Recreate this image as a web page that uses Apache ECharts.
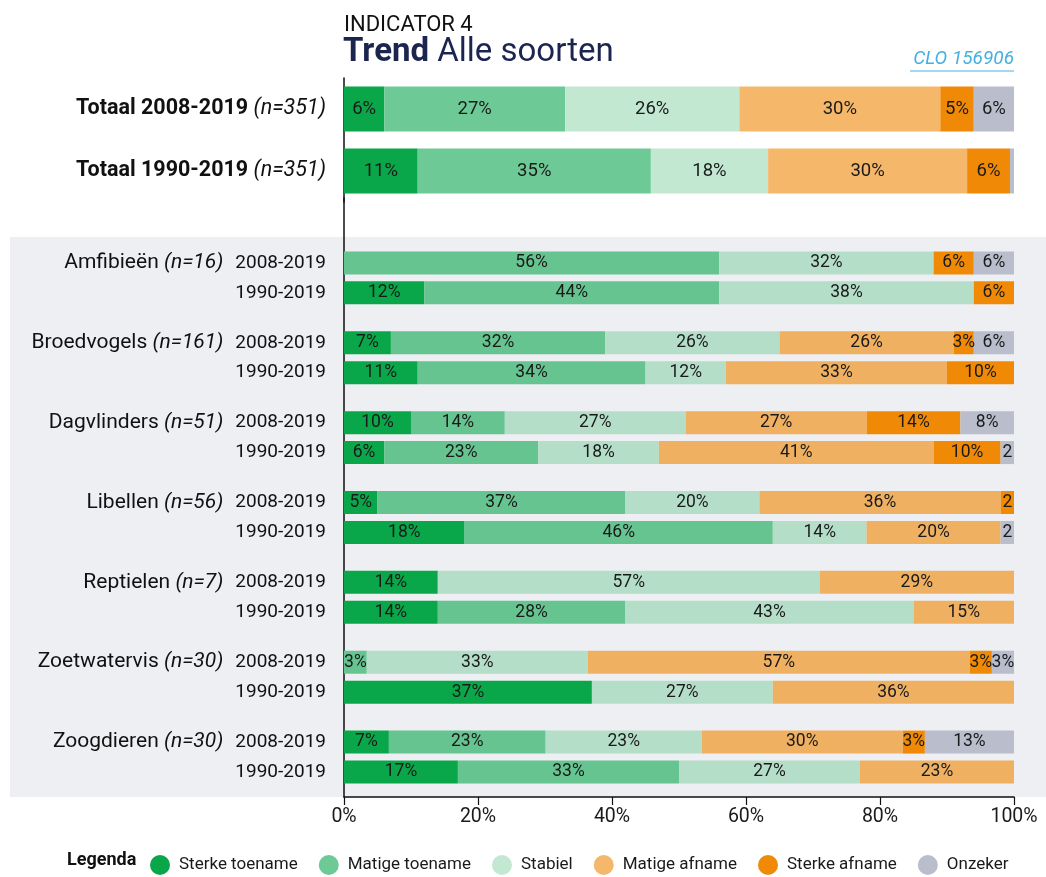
<!DOCTYPE html>
<html>
<head>
<meta charset="utf-8">
<script src="https://cdn.jsdelivr.net/npm/echarts@6/dist/echarts.min.js"></script>
<style>
html,body{margin:0;padding:0;background:#fff;}
#chart{width:1046px;height:877px;}
</style>
</head>
<body>
<div id="chart"></div>
<script>
// ---------- DATA ----------
const seriesNames = ['Sterke toename', 'Matige toename', 'Stabiel', 'Matige afname', 'Sterke afname', 'Onzeker'];

// Totals (top panel)
const totalLabels = ['Totaal 2008-2019', 'Totaal 1990-2019'];
const totalN = [351, 351];
const totalSterkeToename = [6, 11];
const totalMatigeToename = [27, 34.8];
const totalStabiel = [26, 17.5];
const totalMatigeAfname = [30, 29.7];
const totalSterkeAfname = [5, 6.4];
const totalOnzeker = [6, 0.6];

// Species groups (lower panel); two rows per group: 2008-2019, 1990-2019
const groups = ['Amfibieën', 'Broedvogels', 'Dagvlinders', 'Libellen', 'Reptielen', 'Zoetwatervis', 'Zoogdieren'];
const groupN = [16, 161, 51, 56, 7, 30, 30];
const periods = ['2008-2019', '1990-2019'];
const sterkeToename = [0, 12, 7, 11, 10, 6, 5, 18, 14, 14, 0, 37, 6.7, 17];
const matigeToename = [56, 44, 32, 34, 14, 23, 37, 46, 0, 28, 3.4, 0, 23.4, 33];
const stabiel       = [32, 38, 26, 12, 27, 18, 20, 14, 57, 43, 33, 27, 23.3, 27];
const matigeAfname  = [0, 0, 26, 33, 27, 41, 36, 20, 29, 15, 57, 36, 30, 23];
const sterkeAfname  = [6, 6, 3, 10, 14, 10, 2, 0, 0, 0, 3.3, 0, 3.3, 0];
const onzeker       = [6, 0, 6, 0, 8, 2, 0, 2, 0, 0, 3.3, 0, 13.3, 0];

// ---------- STYLE ----------
const FONT = 'Roboto, "Open Sans", sans-serif';
const topColors = ['#0aa64a', '#6dc995', '#c2e8d2', '#f5b76a', '#f08a06', '#b9bdcc'];
const lowColors = ['#0aa64a', '#65c490', '#b5dec9', '#efb062', '#f08a06', '#b9bdcc'];

// ---------- BUILD ----------
const topSeriesData = [totalSterkeToename, totalMatigeToename, totalStabiel, totalMatigeAfname, totalSterkeAfname, totalOnzeker];
const lowSeriesData = [sterkeToename, matigeToename, stabiel, matigeAfname, sterkeAfname, onzeker];

const slotCount = 60, firstSlot = 6, groupSlots = 8, periodSlots = 3;
const lowCats = new Array(slotCount).fill('');
const rowSlot = [];
groups.forEach((g, gi) => {
  periods.forEach((p, pi) => {
    const s = firstSlot + gi * groupSlots + pi * periodSlots;
    rowSlot.push(s);
    lowCats[s] = (pi === 0 ? g + '|' + groupN[gi] : '|') + '|' + p;
  });
});
const topCats = totalLabels.map((t, i) => t + '|' + totalN[i]);

function labelFmt(p) {
  const v = p.value;
  if (v === '-' || v == null || v < 1) return '';
  const r = Math.round(v);
  return v < 2.5 ? String(r) : r + '%';
}

const series = [];
seriesNames.forEach((name, k) => {
  series.push({
    name, type: 'bar', stack: 'top', xAxisIndex: 0, yAxisIndex: 0,
    barWidth: 45,
    itemStyle: { color: topColors[k] },
    label: { show: true, position: 'inside', formatter: labelFmt, color: '#1a1a1a', fontSize: 18.5, fontFamily: FONT },
    data: topSeriesData[k]
  });
});
seriesNames.forEach((name, k) => {
  const d = new Array(slotCount).fill('-');
  lowSeriesData[k].forEach((v, r) => { d[rowSlot[r]] = v; });
  series.push({
    name, type: 'bar', stack: 'low', xAxisIndex: 1, yAxisIndex: 1,
    barWidth: 23,
    itemStyle: { color: lowColors[k] },
    label: { show: true, position: 'inside', formatter: labelFmt, color: '#1a1a1a', fontSize: 17.5, fontFamily: FONT },
    data: d
  });
});

const chart = echarts.init(document.getElementById('chart'), null, { renderer: 'canvas' });
chart.setOption({
  animation: false,
  backgroundColor: '#ffffff',
  textStyle: { fontFamily: FONT },
  grid: [
    { left: 344, right: 32, top: 78, height: 124 },
    { left: 344, right: 32, top: 198, height: 599 }
  ],
  xAxis: [
    { type: 'value', gridIndex: 0, min: 0, max: 100, interval: 20, show: false },
    {
      type: 'value', gridIndex: 1, min: 0, max: 100, interval: 20,
      axisLine: { show: true, lineStyle: { color: '#111', width: 1.5 } },
      axisTick: { show: true, length: 8, lineStyle: { color: '#111', width: 1.2 } },
      splitLine: { show: false },
      axisLabel: { formatter: '{value}%', fontSize: 19.5, color: '#1a1a1a', margin: 10, fontFamily: FONT }
    }
  ],
  yAxis: [
    {
      type: 'category', gridIndex: 0, inverse: true, data: topCats,
      axisLine: { show: true, lineStyle: { color: '#111', width: 1.5 } },
      axisTick: { show: false },
      axisLabel: {
        interval: 0, margin: 18,
        formatter: v => { const a = v.split('|'); return '{b|' + a[0] + ' }{i|(n=' + a[1] + ')}'; },
        rich: {
          b: { fontSize: 21.5, fontWeight: 'bold', color: '#111', fontFamily: FONT },
          i: { fontSize: 21.5, fontStyle: 'italic', color: '#111', fontFamily: FONT }
        }
      }
    },
    {
      type: 'category', gridIndex: 1, inverse: true, data: lowCats,
      axisLine: { show: true, lineStyle: { color: '#111', width: 1.5 } },
      axisTick: { show: false },
      axisLabel: {
        interval: 0, margin: 18,
        formatter: v => {
          const a = v.split('|');
          if (a.length < 3) return '';
          if (a[0]) return '{g|' + a[0] + ' }{n|(n=' + a[1] + ')}{gap| }{p|' + a[2] + '}';
          return '{p|' + a[2] + '}';
        },
        rich: {
          g: { fontSize: 21, color: '#111', fontFamily: FONT },
          n: { fontSize: 21, fontStyle: 'italic', color: '#111', fontFamily: FONT },
          gap: { width: 12, fontSize: 18 },
          p: { fontSize: 19, color: '#111', fontFamily: FONT }
        }
      }
    }
  ],
  legend: {
    data: seriesNames,
    left: 145, top: 850, width: 901,
    icon: 'circle', itemWidth: 20, itemHeight: 20, itemGap: 21,
    textStyle: { fontSize: 17, color: '#1a1a1a', fontFamily: FONT, padding: [0, 0, 0, 4] },
    selectedMode: false
  },
  graphic: [
    { type: 'rect', z: -10, silent: true, shape: { x: 10, y: 237, width: 1036, height: 560 }, style: { fill: '#eeeff3' } },
    { type: 'text', left: 344, top: 14, style: { text: 'INDICATOR 4', fontSize: 22, fill: '#111', fontFamily: FONT } },
    { type: 'text', left: 343, top: 36, style: {
        text: '{b|Trend }{r|Alle soorten}',
        rich: {
          b: { fontSize: 33, fontWeight: 'bold', fill: '#1c2550', fontFamily: FONT },
          r: { fontSize: 33, fill: '#1c2550', fontFamily: FONT }
        } } },
    { type: 'text', right: 32, top: 50, style: { text: 'CLO 156906', fontSize: 19, fontStyle: 'italic', fill: '#45b0e0', fontFamily: FONT } },
    { type: 'line', silent: true, shape: { x1: 910, y1: 71, x2: 1014, y2: 71 }, style: { stroke: '#45b0e0', lineWidth: 1 } },
    { type: 'text', left: 67, top: 851, style: { text: 'Legenda', fontSize: 18, fontWeight: 'bold', fill: '#111', fontFamily: FONT } }
  ],
  series
});
</script>
</body>
</html>
